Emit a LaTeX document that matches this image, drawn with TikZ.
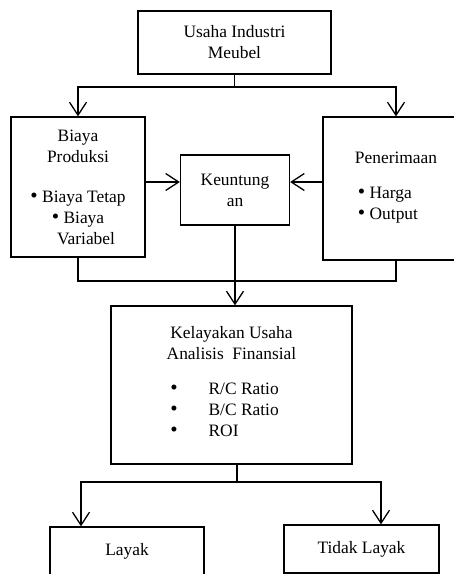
\documentclass[tikz,border=0pt]{standalone}
\usepackage{fontspec}
\setmainfont{Liberation Serif}
\usetikzlibrary{arrows.meta}
\newcommand{\butir}{{\fontsize{21}{21}\selectfont\textbullet}}

\begin{document}
\begin{tikzpicture}[x=1pt,y=-1pt,
  kotak/.style={draw,line width=1.3pt,align=center,inner sep=0pt,font=\fontsize{17.4}{21}\selectfont},
  panah/.style={line width=1.3pt,-{Straight Barb[length=13pt,width=17pt,line width=1.3pt]}},
  garis/.style={line width=1.3pt}]
\useasboundingbox (0,0) rectangle (454,574);
\clip (0,0) rectangle (454,574);

\node[kotak,minimum width=193pt,minimum height=63pt] (usaha) at (234.5,42.5) {Usaha Industri\\Meubel};
\node[kotak,minimum width=134pt,minimum height=140pt] (biaya) at (78,187) {Biaya\\Produksi\\[19pt]\butir\ Biaya Tetap\\\butir\ Biaya\\\hspace*{16pt}Variabel};
\node[kotak,minimum width=109pt,minimum height=70pt] (untung) at (235,190) {Keuntung\\an};
\node[kotak,minimum width=146pt,minimum height=143pt] (terima) at (396,188.5) {Penerimaan\\[19pt]\begin{tabular}{@{}l@{}}\butir\ Harga\\\butir\ Output\end{tabular}\hspace*{16pt}};
\node[kotak,minimum width=241pt,minimum height=158pt] (kelayakan) at (231.5,385) {Kelayakan Usaha\\Analisis\ \ Finansial\\[19pt]\begin{tabular}{@{}l@{\hspace{31pt}}l@{}}\butir&R/C Ratio\\\butir&B/C Ratio\\\butir&ROI\end{tabular}\hspace*{14pt}};
\node[kotak,minimum width=154pt,minimum height=48pt] (layak) at (127,551) {Layak};
\node[kotak,minimum width=155pt,minimum height=48pt] (tidak) at (361.5,549) {Tidak Layak};

% dari usaha ke biaya dan penerimaan
\coordinate (atas) at (234.5,87);
\draw[garis] (usaha.south) -- (atas);
\draw[panah] (atas) -| (biaya.north);
\draw[panah] (atas) -| (terima.north);

% ke keuntungan
\draw[panah] ([yshift=5pt]biaya.east) -- ([yshift=8pt]untung.west);
\draw[panah] ([yshift=6.5pt]terima.west) -- ([yshift=8pt]untung.east);

% ke kelayakan
\coordinate (tengah) at (235,281);
\draw[garis] (biaya.south) |- (tengah) -| (terima.south);
\draw[panah] (untung.south) -- (untung.south |- kelayakan.north);

% ke layak / tidak layak
\coordinate (bawah) at (237,482);
\draw[garis] (kelayakan.south -| bawah) -- (bawah);
\draw[panah] (bawah) -| ([xshift=-46pt]layak.north);
\draw[panah] (bawah) -| ([xshift=19.5pt]tidak.north);
\end{tikzpicture}
\end{document}
